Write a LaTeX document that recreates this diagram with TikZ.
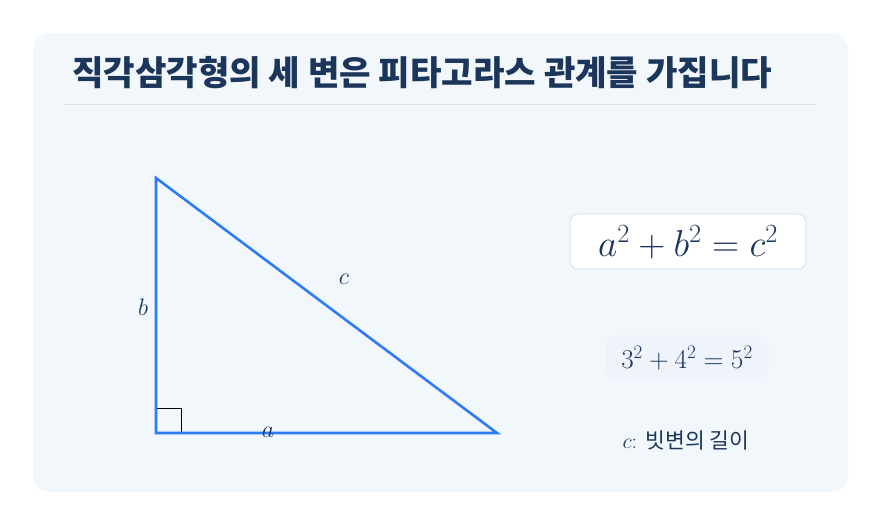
\RequirePackage{fix-cm}
\documentclass[tikz,border=0pt]{standalone}
\usepackage{amsmath}
\usepackage{fontspec}
\newfontfamily\kr{Noto Sans CJK KR}
\usepackage{xcolor}
\definecolor{panel-bg}{HTML}{F2F7FC}
\definecolor{rule-gray}{HTML}{D6E0EB}
\definecolor{navy}{HTML}{1B365A}
\definecolor{tri-blue}{HTML}{2F7CF6}
\definecolor{box-line}{HTML}{D3DEEC}
\definecolor{soft-bg}{HTML}{EEF3FC}
\usetikzlibrary{positioning}

\begin{document}
\begin{tikzpicture}[x=1pt,y=-1pt,
	side/.style={text=navy,font=\fontsize{24}{26}\selectfont},
	formulabox/.style={draw=box-line,fill=white,rounded corners=8pt,line width=0.8pt},
	]
	\useasboundingbox (0,0) rectangle (881,526);
	\fill[white] (0,0) rectangle (881,526);
	\fill[panel-bg,rounded corners=16pt] (33,33) rectangle (848,492);
	
	% title
	\node[anchor=west,text=navy,font=\kr\bfseries\fontsize{34.2}{38}\selectfont,inner sep=0pt]
	(title) at (72,73) {직각삼각형의 세 변은 피타고라스 관계를 가집니다};
	\draw[rule-gray,line width=0.8pt] (65,104) -- (816,104);
	
	% triangle
	\coordinate (C) at (156,433);
	\coordinate (B) at (156,178);
	\coordinate (A) at (497,433);
	\draw[black,line width=0.7pt] (156,408) -| (181,433);
	\draw[tri-blue,line width=2.6pt,line join=miter] (C) -- (B) -- (A) -- cycle;
	
	\node[side] (lb) at (143,307) {$b$};
	\node[side] (lc) at (344,279) {$c$};
	\node[side] (la) at (268,432) {$a$};
	
	% formulas
	\draw[formulabox] (570,214) rectangle (806,269);
	\node[text=navy,font=\fontsize{37.5}{40}\selectfont] (F1) at (688,242) {$a^2+b^2=c^2$};
	
	\fill[soft-bg,rounded corners=10pt] (606,336) rectangle (768,380);
	\node[text=navy,font=\fontsize{27.2}{30}\selectfont] (F2) at (687,358) {$3^2+4^2=5^2$};
	
	\node[text=navy,font=\fontsize{21.5}{24}\selectfont] (note) at (686,440) {$c$: {\kr 빗변의 길이}};
	
\end{tikzpicture}
\end{document}
